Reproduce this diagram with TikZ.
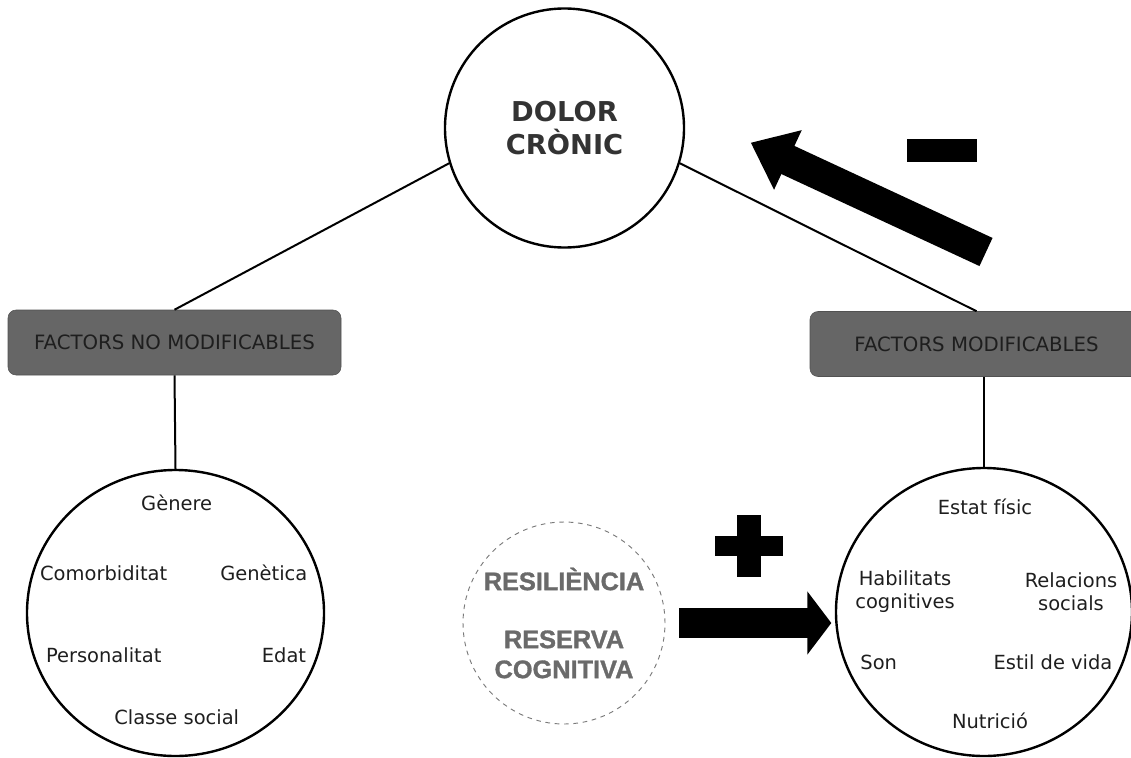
\documentclass[tikz,border=0pt]{standalone}
\usepackage{fontspec}
\setmainfont{DejaVu Sans}
\newfontfamily\narrowfont{Liberation Sans}[FakeBold=1.2]
\usetikzlibrary{shapes.geometric,arrows.meta}
\definecolor{boxgray}{HTML}{666666}
\definecolor{txt}{HTML}{1E1E1E}
\definecolor{titlegray}{HTML}{333333}
\definecolor{resilgray}{HTML}{6A6A6A}
\definecolor{dashgray}{HTML}{7A7A7A}
\tikzset{
  bodytext/.style={inner sep=0pt, text=txt, font=\fontsize{14.6}{17.2}\selectfont},
  catbox/.style={rectangle, rounded corners=6pt, fill=boxgray, draw=boxgray!80!black, line width=0.4pt,
    minimum width=249.75pt, minimum height=48.75pt, inner sep=0pt, text=txt,
    font=\fontsize{14.8}{17}\selectfont},
  bigcircle/.style={circle, draw=black, line width=1.8pt, inner sep=0pt},
  factorcirc/.style={ellipse, draw=black, line width=1.8pt, inner sep=0pt},
  link/.style={draw=black, line width=1.5pt},
  fatarrow/.style={draw=black, line width=22.5pt, -{Triangle[length=18pt, width=46.5pt]}},
  fatarrowb/.style={draw=black, line width=23.25pt, -{Triangle[length=30.75pt, width=47.25pt]}},
}
\begin{document}
\begin{tikzpicture}[x=0.75pt, y=-0.75pt]
\useasboundingbox (0,0) rectangle (1131,757);

% main circle
\node[bigcircle, minimum size=179.25pt, align=center, text=titlegray,
      font=\bfseries\fontsize{20.5}{25}\selectfont] (dolor) at (564.5,128) {DOLOR\\CRÒNIC};

% category boxes
\node[catbox] (lbox) at (174.5,342.5) {FACTORS NO MODIFICABLES};
\node[catbox] (rbox) at (976.5,344) {FACTORS MODIFICABLES};

% factor circles
\node[factorcirc, minimum width=222.75pt, minimum height=214.5pt] (lcirc) at (175.5,613) {};
\node[factorcirc, minimum width=222pt, minimum height=216pt] (rcirc) at (984,612) {};

% resilience circle
\node[circle, draw=dashgray, line width=0.7pt, dash pattern=on 3.5pt off 3.5pt,
      minimum size=151.5pt, inner sep=0pt, align=center, text=resilgray,
      font=\narrowfont\bfseries\fontsize{19}{22.5}\selectfont] (resil) at (564,623)
      {RESILIÈNCIA\\[21pt]RESERVA\\COGNITIVA};

% connectors
\draw[link] (lbox.north) -- (dolor.197);
\draw[link] (rbox.north) -- (dolor.343);
\draw[link] (lbox.south) -- (lcirc.north);
\draw[link] (rcirc.north) -- (rcirc.north |- rbox.south);

% big arrows
\draw[fatarrow, shorten <=10.5pt, shorten >=2.6pt] (resil.east) -- (resil.east -| rcirc.west);
\coordinate (mstart) at (986,252);
\coordinate (mend) at (750.7,142.7);
\draw[fatarrowb] (mstart) -- (mend);

% plus and minus signs
\fill[black] (715,536) rectangle (783,556);
\fill[black] (737,515) rectangle (761,577);
\fill[black] (907,139) rectangle (977,162);

% left factors
\node[bodytext, anchor=base] (genere) at (176.7,510.7) {Gènere};
\node[bodytext, anchor=base] (comorb) at (103.7,580.7) {Comorbiditat};
\node[bodytext, anchor=base] (genetica) at (263.8,580.7) {Genètica};
\node[bodytext, anchor=base] (person) at (103.7,662.3) {Personalitat};
\node[bodytext, anchor=base] (edat) at (284,662.3) {Edat};
\node[bodytext, anchor=base] (classe) at (176.7,724) {Classe social};

% right factors
\node[bodytext, anchor=base] (estat) at (985,514.3) {Estat físic};
\node[bodytext, align=center] (habil) at (905,592) {Habilitats\\cognitives};
\node[bodytext, align=center] (relac) at (1071,592) {Relacions\\socials};
\node[bodytext, anchor=base] (son) at (878.7,669) {Son};
\node[bodytext, anchor=base] (estil) at (1053,669) {Estil de vida};
\node[bodytext, anchor=base] (nutri) at (990,728.3) {Nutrició};
\end{tikzpicture}
\end{document}
